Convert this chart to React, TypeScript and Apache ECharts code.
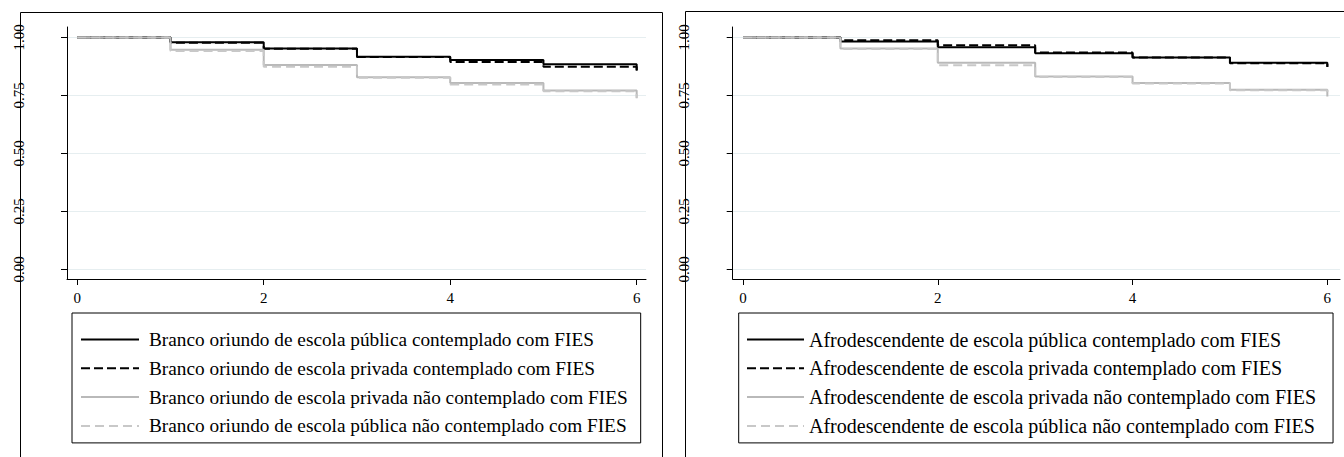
import React, { useEffect, useRef } from "react";
import * as echarts from "echarts";

const times = [0, 1, 2, 3, 4, 5, 6];
const yTicks = [0, 0.25, 0.5, 0.75, 1];
const xTicks = [0, 2, 4, 6];

const leftNames = [
  "Branco oriundo de escola pública contemplado com FIES",
  "Branco oriundo de escola privada contemplado com FIES",
  "Branco oriundo de escola privada não contemplado com FIES",
  "Branco oriundo de escola pública não contemplado com FIES",
];
const leftPubFies = [1, 0.979, 0.952, 0.917, 0.903, 0.884, 0.856];
const leftPrivFies = [1, 0.977, 0.951, 0.916, 0.894, 0.873, 0.86];
const leftPrivNao = [1, 0.947, 0.881, 0.828, 0.803, 0.771, 0.738];
const leftPubNao = [1, 0.941, 0.874, 0.826, 0.797, 0.768, 0.74];

const rightNames = [
  "Afrodescendente de escola pública contemplado com FIES",
  "Afrodescendente de escola privada contemplado com FIES",
  "Afrodescendente de escola privada não contemplado com FIES",
  "Afrodescendente de escola pública não contemplado com FIES",
];
const rightPubFies = [1, 0.982, 0.958, 0.932, 0.913, 0.891, 0.873];
const rightPrivFies = [1, 0.988, 0.966, 0.935, 0.913, 0.889, 0.872];
const rightPrivNao = [1, 0.952, 0.891, 0.831, 0.803, 0.774, 0.745];
const rightPubNao = [1, 0.95, 0.88, 0.829, 0.801, 0.772, 0.745];

const FONT = '"Liberation Serif", "Times New Roman", serif';

const styles = [
  { color: "#000000", type: "solid" as any, width: 2 },
  { color: "#000000", type: [9, 4] as any, width: 2 },
  { color: "#b9b9b9", type: "solid" as any, width: 2 },
  { color: "#c8c8c8", type: [9, 5] as any, width: 2 },
];

function mkSeries(names: string[], vals: number[][], idx: number) {
  return names.map((n, i) => ({
    type: "line",
    name: n,
    xAxisIndex: idx,
    yAxisIndex: idx,
    step: "end",
    symbol: "none",
    showSymbol: false,
    data: times.map((t, k) => [t, vals[i][k]]),
    lineStyle: { color: styles[i].color, type: styles[i].type, width: styles[i].width },
    itemStyle: { color: styles[i].color },
    z: 2 + i,
  }));
}

function mkX(idx: number) {
  return {
    type: "value",
    gridIndex: idx,
    min: idx === 0 ? -0.11 : -0.106,
    max: idx === 0 ? 6.1 : 6.13,
    axisLine: { show: true, onZero: false, lineStyle: { color: "#000", width: 1 } },
    axisTick: { show: true, length: 6, customValues: xTicks, lineStyle: { color: "#000" } },
    axisLabel: {
      customValues: xTicks,
      margin: 11,
      color: "#000",
      fontFamily: FONT,
      fontSize: 15,
    },
    splitLine: { show: false },
  };
}

function mkY(idx: number) {
  return {
    type: "value",
    gridIndex: idx,
    min: -0.042,
    max: 1.045,
    axisLine: { show: true, onZero: false, lineStyle: { color: "#000", width: 1 } },
    axisTick: { show: true, length: 6, customValues: yTicks, lineStyle: { color: "#000" } },
    axisLabel: {
      customValues: yTicks,
      rotate: 90,
      margin: 41,
      color: "#000",
      fontFamily: FONT,
      fontSize: 15,
      formatter: (v: number) => v.toFixed(2),
    },
    splitLine: { show: true, lineStyle: { color: "#e6eef0", width: 1 } },
  };
}

function mkLegend(
  names: string[],
  left: number,
  padding: number[],
  textPad: number,
  fontSize: number,
  itemWidth: number
) {
  return {
    data: names,
    orient: "vertical",
    left,
    top: 313,
    itemWidth,
    itemHeight: 14,
    itemGap: 8.8,
    padding,
    borderColor: "#000",
    borderWidth: 1,
    borderRadius: 0,
    selectedMode: false,
    itemStyle: { opacity: 0 },
    textStyle: {
      fontFamily: FONT,
      fontSize,
      color: "#000",
      lineHeight: 20,
      padding: [0, 0, 0, textPad],
    },
  };
}

export default function App() {
  const ref = useRef<HTMLDivElement>(null);
  useEffect(() => {
    document.body.style.margin = "0";
    const chart = echarts.init(ref.current!, null, { renderer: "svg" });
    chart.setOption({
      animation: false,
      backgroundColor: "#fff",
      grid: [
        { left: 67, top: 27, width: 579, height: 252 },
        { left: 732.7, top: 27, width: 607.3, height: 252 },
      ],
      xAxis: [mkX(0), mkX(1)],
      yAxis: [mkY(0), mkY(1)],
      legend: [
        mkLegend(leftNames, 72, [16.5, 13, 7, 8], 5, 19.3, 58),
        mkLegend(rightNames, 738.7, [16.5, 17, 7, 7.3], 0, 20, 57),
      ],
      graphic: [
        {
          type: "rect",
          shape: { x: 20.5, y: 12.5, width: 642, height: 500 },
          style: { fill: "none", stroke: "#000", lineWidth: 1 },
          z: 0,
          silent: true,
        },
        {
          type: "rect",
          shape: { x: 685.5, y: 11.5, width: 700, height: 500 },
          style: { fill: "none", stroke: "#000", lineWidth: 1 },
          z: 0,
          silent: true,
        },
      ],
      series: [
        ...mkSeries(leftNames, [leftPubFies, leftPrivFies, leftPrivNao, leftPubNao], 0),
        ...mkSeries(rightNames, [rightPubFies, rightPrivFies, rightPrivNao, rightPubNao], 1),
      ],
    });
    return () => chart.dispose();
  }, []);
  return (
    <div
      ref={ref}
      style={{ position: "absolute", left: 0, top: 0, width: 1344, height: 457 }}
    />
  );
}
